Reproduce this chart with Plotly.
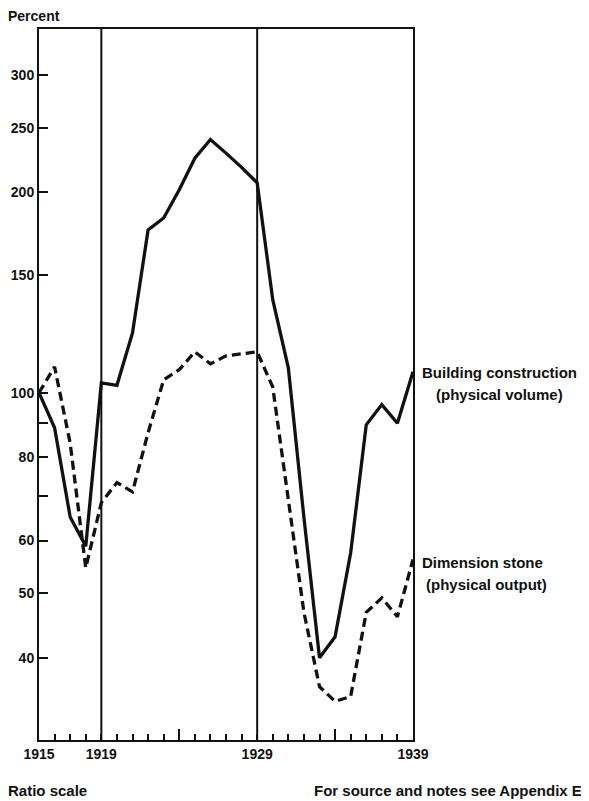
import math
import plotly.graph_objects as go

INK = "#111111"
FONT = "Liberation Sans"

years = list(range(1915, 1940))

# Building construction (physical volume), percent, ratio scale
building = [100, 88.6, 65.1, 58.8, 103.5, 102.6, 123, 175.6, 183, 201.8, 225, 240, 229, 218, 206.7,
            138, 109, 65, 40, 43, 57.5, 89.5, 96, 90, 107.5]

# Dimension stone (physical output)
stone = [100, 109.4, 84, 54.6, 68.4, 73.3, 71, 87.1, 104.6, 108.3, 115.2, 110.5, 113.6, 114.4, 115.2,
         102, 69.7, 46.8, 36.2, 34.4, 35, 46.8, 49.2, 46.1, 56.2]

y_ticks = [40, 50, 60, 70, 80, 90, 100, 150, 200, 250, 300]
y_labels = ["40", "50", "60", "", "80", "", "100", "150", "200", "250", "300"]
x_labeled = [1915, 1919, 1929, 1939]
x_long_ticks = [1924, 1934]
dividers = [1919, 1929]

fig = go.Figure()
fig.add_trace(go.Scatter(x=years, y=building, mode="lines", name="Building construction",
                         line=dict(color=INK, width=3.3)))
fig.add_trace(go.Scatter(x=years, y=stone, mode="lines", name="Dimension stone",
                         line=dict(color=INK, width=3.3, dash="9px,5px")))

for yr in dividers:
    fig.add_vline(x=yr, line=dict(color=INK, width=2))

# labels at right end of each series (log axis: annotation y is given in log10 units)
def end_label(value, text, xshift, yshift):
    fig.add_annotation(xref="paper", x=1.0, yref="y", y=math.log10(value), text=f"<b>{text}</b>",
                       showarrow=False, xanchor="left", yanchor="middle",
                       xshift=xshift, yshift=yshift, font=dict(size=15))

end_label(building[-1], "Building construction", 7, -1)
end_label(building[-1], "(physical volume)", 21, -23)
end_label(stone[-1], "Dimension stone", 7, -3)
end_label(stone[-1], "(physical output)", 11, -25)

fig.add_annotation(xref="paper", yref="paper", x=-0.088, y=1.0, yshift=13, text="<b>Percent</b>",
                   showarrow=False, xanchor="left", yanchor="middle")
fig.add_annotation(xref="paper", yref="paper", x=-0.088, y=0, yshift=-50, text="<b>Ratio scale</b>",
                   showarrow=False, xanchor="left", yanchor="middle", font=dict(size=15))
fig.add_annotation(xref="paper", yref="paper", x=1.458, y=0, yshift=-50,
                   text="<b>For source and notes see Appendix E</b>",
                   showarrow=False, xanchor="right", yanchor="middle", font=dict(size=15))

# page body has an 8px margin, so the figure is shrunk by that much
fig.update_layout(
    width=581, height=793,
    margin=dict(l=31, r=176, t=21, b=61),
    plot_bgcolor="white", paper_bgcolor="white",
    showlegend=False,
    font=dict(family=FONT, size=14, color=INK),
    xaxis=dict(range=[1915, 1939], tickvals=years,
               ticktext=[f"<b>{y}</b>" if y in x_labeled else "" for y in years],
               ticks="inside", ticklen=6, tickwidth=2, tickcolor=INK,
               showline=True, linewidth=2, linecolor=INK, mirror=True, automargin=False,
               showgrid=False, zeroline=False, tickfont=dict(size=14)),
    xaxis2=dict(range=[1915, 1939], overlaying="x", side="bottom", tickvals=x_long_ticks,
                ticktext=["", ""], ticks="inside", ticklen=11, tickwidth=2, tickcolor=INK,
                showgrid=False, zeroline=False, showline=False, automargin=False),
    yaxis=dict(type="log", range=[1.4786, 2.5462], tickvals=y_ticks,
               ticktext=[f"<b>{t}</b>" if t else "" for t in y_labels],
               ticks="inside", ticklen=9, tickwidth=2, tickcolor=INK,
               showline=True, linewidth=2, linecolor=INK, mirror=True, automargin=False,
               showgrid=False, zeroline=False, tickfont=dict(size=14)),
)
# invisible trace to make xaxis2 render its ticks
fig.add_trace(go.Scatter(x=[years[0]], y=[stone[0]], xaxis="x2", mode="markers",
                         marker=dict(opacity=0), hoverinfo="skip"))

fig.write_html("out.html")
